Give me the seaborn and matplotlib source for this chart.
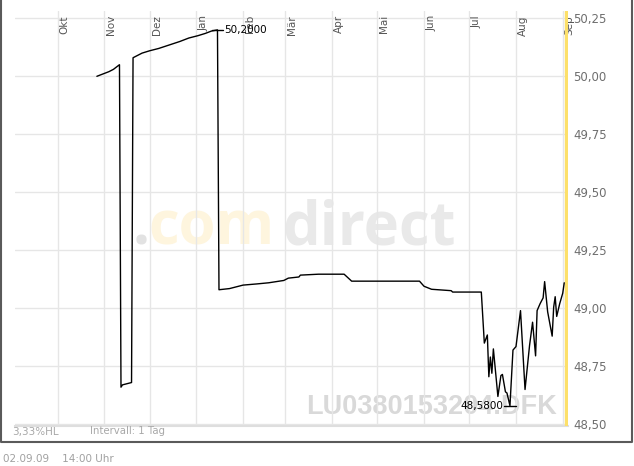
import matplotlib
matplotlib.use("Agg")
import matplotlib.pyplot as plt
import matplotlib.lines as mlines
import seaborn as sns
import pandas as pd

# ---------------- data ----------------
dates = ["2008-10-27", "2008-11-04", "2008-11-07", "2008-11-11", "2008-11-12", "2008-11-13",
         "2008-11-19", "2008-11-20", "2008-11-26", "2008-12-01", "2008-12-07", "2008-12-14",
         "2008-12-21", "2008-12-27", "2009-01-02", "2009-01-07", "2009-01-11", "2009-01-15",
         "2009-01-16", "2009-01-23", "2009-02-01", "2009-02-10", "2009-02-18", "2009-02-28",
         "2009-03-03", "2009-03-10", "2009-03-11", "2009-03-23", "2009-04-09", "2009-04-14",
         "2009-05-29", "2009-06-01", "2009-06-06", "2009-06-19", "2009-06-20", "2009-07-09",
         "2009-07-10", "2009-07-11", "2009-07-13", "2009-07-14", "2009-07-15", "2009-07-16",
         "2009-07-17", "2009-07-20", "2009-07-22", "2009-07-23", "2009-07-25", "2009-07-26",
         "2009-07-28", "2009-07-30", "2009-08-01", "2009-08-04", "2009-08-07", "2009-08-10",
         "2009-08-12", "2009-08-14", "2009-08-15", "2009-08-17", "2009-08-19", "2009-08-20",
         "2009-08-22", "2009-08-25", "2009-08-26", "2009-08-27", "2009-08-28", "2009-08-30",
         "2009-09-01", "2009-09-02"]
prices = [50.00, 50.02, 50.03, 50.05, 48.66, 48.67,
          48.68, 50.08, 50.10, 50.11, 50.12, 50.135,
          50.15, 50.165, 50.175, 50.185, 50.195, 50.20,
          49.08, 49.085, 49.10, 49.105, 49.11, 49.12,
          49.13, 49.135, 49.143, 49.147, 49.147, 49.117,
          49.117, 49.095, 49.082, 49.076, 49.07, 49.07,
          48.96, 48.85, 48.885, 48.705, 48.79, 48.72,
          48.825, 48.62, 48.71, 48.715, 48.64, 48.635,
          48.58, 48.82, 48.835, 48.99, 48.65, 48.84,
          48.94, 48.795, 48.99, 49.02, 49.045, 49.115,
          48.985, 48.88, 49.005, 49.05, 48.965, 49.02,
          49.065, 49.11]

month_labels = ["Okt", "Nov", "Dez", "Jan", "Feb", "Mär", "Apr", "Mai", "Jun", "Jul", "Aug", "Sep"]
month_starts = pd.date_range("2008-10-01", "2009-09-01", freq="MS")
y_ticks = [48.50, 48.75, 49.00, 49.25, 49.50, 49.75, 50.00, 50.25]

hi_date, hi_val = "2009-01-15", 50.20
lo_date, lo_val = "2009-07-28", 48.58

df = pd.DataFrame({"date": pd.to_datetime(dates), "price": prices})

# ---------------- figure ----------------
sns.set_style("white")
plt.rcParams["font.family"] = ["DejaVu Sans"]

W, H = 634, 466
fig = plt.figure(figsize=(W / 100, H / 100), dpi=100)
ax = fig.add_axes([15 / W, 1 - 426 / H, 553 / W, 415 / H])

# watermarks (behind everything)
fig.text(133 / W, 1 - 245 / H, ".", fontsize=43, fontweight="bold", family="Open Sans",
         color="#e2e2e2", va="baseline", ha="left", zorder=0)
fig.text(148 / W, 1 - 245 / H, "com", fontsize=43, fontweight="bold", family="Open Sans",
         color="#fef5de", va="baseline", ha="left", zorder=0)
fig.text(282 / W, 1 - 245 / H, "direct", fontsize=43, fontweight="bold", family="Open Sans",
         color="#e9e9e9", va="baseline", ha="left", zorder=0)
fig.text(557 / W, 1 - 414 / H, "LU0380153204.DFK", fontsize=19.5, fontweight="bold",
         family="Liberation Sans", color="#d9d9d9", va="baseline", ha="right", zorder=0)
ax.set_zorder(1)
ax.patch.set_alpha(0)

sns.lineplot(data=df, x="date", y="price", ax=ax, color="black", linewidth=1.0, zorder=5)

x0 = pd.Timestamp("2008-10-01")
ax.set_xlim(x0 - pd.Timedelta(days=28.3), x0 + pd.Timedelta(days=338.5))
# 50,25 sits at y=18.3 px, 48,50 at y=424.3 px
ax.set_ylim(48.50 - 1.7 / 232, 50.25 + 7.3 / 232)

ax.set_xticks(month_starts)
ax.set_xticklabels([])
ax.set_yticks(y_ticks)
ax.grid(True, color="#e6e6e6", linewidth=1.0)
ax.tick_params(axis="both", length=0)
ax.yaxis.tick_right()
ax.set_yticklabels([f"{v:.2f}".replace(".", ",") for v in y_ticks],
                   fontsize=8.5, color="#6e6e6e")
ax.tick_params(axis="y", pad=4)
ax.set_xlabel("")
ax.set_ylabel("")
for s in ["top", "left", "right"]:
    ax.spines[s].set_visible(False)
ax.spines["bottom"].set_color("#dedede")
ax.spines["bottom"].set_linewidth(1.5)

# month names at the top of each gridline
for d, lbl in zip(month_starts, month_labels):
    ax.annotate(lbl, xy=(d, 1), xycoords=("data", "axes fraction"), xytext=(1.5, -3.0),
                textcoords="offset points", rotation=90, ha="left", va="top",
                fontsize=7.5, color="#555555")

# current day marker
ax.axvline(x0 + pd.Timedelta(days=337.3), color="#fde06a", linewidth=2.4, zorder=3)

# high / low markers
for d, v, side in [(hi_date, hi_val, 1), (lo_date, lo_val, -1)]:
    d = pd.Timestamp(d)
    ax.plot([d - pd.Timedelta(days=3.8), d + pd.Timedelta(days=3.8)], [v, v],
            color="black", linewidth=1.0, zorder=6)
    ax.annotate(f"{v:.4f}".replace(".", ","), xy=(d, v), xytext=(5.0 * side, 0),
                textcoords="offset points", ha="left" if side > 0 else "right",
                va="center", fontsize=7.5, color="black", zorder=7)

# footer texts
fig.text(12 / W, 1 - 431.5 / H, "3,33%HL", fontsize=7.5, color="#a8a8a8", va="center", ha="left")
fig.text(90 / W, 1 - 431.5 / H, "Intervall: 1 Tag", fontsize=7.3, color="#a8a8a8", va="center", ha="left")
fig.text(3 / W, 1 - 459 / H, "02.09.09    14:00 Uhr", fontsize=7.5, color="#a0a0a0", va="center", ha="left")

# outer frame: left, bottom, right (no top)
fx = [0.8 / W, 0.8 / W, 632 / W, 632 / W]
fy = [1.0, 1 - 442 / H, 1 - 442 / H, 1.0]
fig.lines.append(mlines.Line2D(fx, fy, transform=fig.transFigure, color="#5a5a5a",
                               linewidth=1.5, zorder=10))

fig.savefig("out.png", dpi=100)
